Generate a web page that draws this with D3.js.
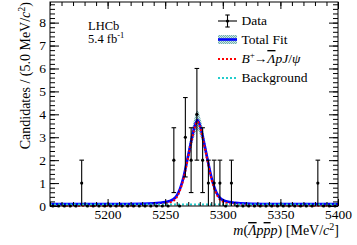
<!DOCTYPE html>
<html><head><meta charset="utf-8">
<script src="https://cdn.jsdelivr.net/npm/d3@7"></script>
<style>html,body{margin:0;padding:0;background:#fff}svg{display:block}</style>
</head><body>
<svg id="c" width="357" height="245"></svg>
<script>
// ---- data ----
const binCenters = [5152.5,5157.5,5162.5,5167.5,5172.5,5177.5,5182.5,5187.5,5192.5,5197.5,
  5202.5,5207.5,5212.5,5217.5,5222.5,5227.5,5232.5,5237.5,5242.5,5247.5,
  5252.5,5257.5,5262.5,5267.5,5272.5,5277.5,5282.5,5287.5,5292.5,5297.5,
  5302.5,5307.5,5312.5,5317.5,5322.5,5327.5,5332.5,5337.5,5342.5,5347.5,
  5352.5,5357.5,5362.5,5367.5,5372.5,5377.5,5382.5,5387.5,5392.5,5397.5];
const counts = [0,0,0,0,0,1,0,0,0,0,
  0,0,0,0,0,0,0,0,0,0,
  0,2,0,3,2,4,2,1,1,1,
  0,1,0,0,0,0,0,0,0,0,
  0,0,0,0,0,0,1,0,0,0];
const fitMass   = [5150,5200,5230,5240,5245,5250,5254,5257,5260,5263,5266,5269,5272,5275,5278,5281,5284,5287,5290,5293,5296,5299,5302,5306,5311,5320,5340,5370,5400];
const totalFit  = [0.08,0.085,0.10,0.12,0.14,0.17,0.22,0.29,0.45,0.77,1.27,1.97,2.69,3.37,3.75,3.37,2.69,1.97,1.27,0.77,0.45,0.29,0.22,0.17,0.14,0.11,0.09,0.085,0.08];
const signalFit = [0.01,0.015,0.03,0.05,0.07,0.10,0.15,0.22,0.38,0.70,1.20,1.90,2.62,3.30,3.68,3.30,2.62,1.90,1.20,0.70,0.38,0.22,0.15,0.10,0.07,0.04,0.02,0.015,0.01];
const bandHalf  = [0.02,0.02,0.02,0.02,0.02,0.02,0.03,0.04,0.06,0.10,0.16,0.24,0.32,0.38,0.42,0.38,0.32,0.24,0.16,0.10,0.06,0.04,0.03,0.02,0.02,0.02,0.02,0.02,0.02];
const bkgMass   = [5150,5400];
const bkgFit    = [0.07,0.07];
const xTicks = [5200,5250,5300,5350,5400];
const yTicks = [0,1,2,3,4,5,6,7,8];

// ---- layout ----
const L=50,R=338,T=2,B=206;
const svg=d3.select("#c");
const x=d3.scaleLinear([5150,5400],[L,R]);
const y=d3.scaleLinear([0,8.9],[B,T]);
const font="'Liberation Serif','Times New Roman',serif";

const defs=svg.append("defs");
const pat=defs.append("pattern").attr("id","hatch").attr("patternUnits","userSpaceOnUse").attr("width",2).attr("height",2);
pat.append("rect").attr("width",2).attr("height",2).attr("fill","#cfe6e6");
pat.append("rect").attr("width",1).attr("height",1).attr("fill","#6fb0b0");
pat.append("rect").attr("x",1).attr("y",1).attr("width",1).attr("height",1).attr("fill","#6fb0b0");

const fitPts=fitMass.map((m,i)=>({m,t:totalFit[i],s:signalFit[i],h:bandHalf[i]}));

// band
svg.append("path").datum(fitPts)
  .attr("d",d3.area().x(d=>x(d.m)).y0(d=>y(d.t-d.h)).y1(d=>y(d.t+d.h)).curve(d3.curveMonotoneX))
  .attr("fill","url(#hatch)");
// total fit
svg.append("path").datum(fitPts)
  .attr("d",d3.line().x(d=>x(d.m)).y(d=>y(d.t)).curve(d3.curveMonotoneX))
  .attr("fill","none").attr("stroke","#0000ff").attr("stroke-width",2.6);
// signal
svg.append("path").datum(fitPts)
  .attr("d",d3.line().x(d=>x(d.m)).y(d=>y(d.s)).curve(d3.curveMonotoneX))
  .attr("fill","none").attr("stroke","#ff0000").attr("stroke-width",2).attr("stroke-dasharray","2,2");
// background
svg.append("path").datum(bkgMass.map((m,i)=>({m,v:bkgFit[i]})))
  .attr("d",d3.line().x(d=>x(d.m)).y(d=>y(d.v)))
  .attr("fill","none").attr("stroke","#22cccc").attr("stroke-width",2).attr("stroke-dasharray","2,2");

// data
const data=binCenters.map((m,i)=>({m,n:counts[i]}));
const g=svg.append("g");
data.filter(d=>d.n>0).forEach(d=>{
  const e=Math.sqrt(d.n);
  const cx=x(d.m);
  g.append("line").attr("x1",cx).attr("x2",cx).attr("y1",y(Math.max(0,d.n-e))).attr("y2",y(d.n+e)).attr("stroke","#000").attr("stroke-width",1.1);
  [d.n-e,d.n+e].forEach(v=>{ if(v>0) g.append("line").attr("x1",cx-2.3).attr("x2",cx+2.3).attr("y1",y(v)).attr("y2",y(v)).attr("stroke","#000").attr("stroke-width",1.1);});
});
g.selectAll("circle").data(data).join("circle").attr("cx",d=>x(d.m)).attr("cy",d=>y(d.n)).attr("r",1.6).attr("fill","#000");

// axes
function styleAxis(sel){sel.selectAll("text").attr("font-family",font).attr("font-size",13.5).attr("fill","#000");sel.selectAll("line").attr("stroke","#000");sel.select(".domain").remove();}
svg.append("g").attr("transform",`translate(0,${B})`).call(d3.axisBottom(x).tickValues(xTicks).tickSize(-7).tickSizeOuter(0).tickPadding(3.5).tickFormat(d3.format("d"))).call(styleAxis);
svg.append("g").attr("transform",`translate(0,${B})`).call(d3.axisBottom(x).tickValues(d3.range(5150,5401,10)).tickSize(-4).tickSizeOuter(0).tickFormat("")).call(styleAxis);
svg.append("g").attr("transform",`translate(0,${T})`).call(d3.axisTop(x).tickValues(xTicks).tickSize(-7).tickSizeOuter(0).tickFormat("")).call(styleAxis);
svg.append("g").attr("transform",`translate(0,${T})`).call(d3.axisTop(x).tickValues(d3.range(5150,5401,10)).tickSize(-4).tickSizeOuter(0).tickFormat("")).call(styleAxis);
svg.append("g").attr("transform",`translate(${L},0)`).call(d3.axisLeft(y).tickValues(yTicks).tickSize(-9).tickSizeOuter(0).tickPadding(4)).call(styleAxis);
svg.append("g").attr("transform",`translate(${L},0)`).call(d3.axisLeft(y).tickValues(d3.range(0,8.85,0.2)).tickSize(-5).tickSizeOuter(0).tickFormat("")).call(styleAxis);
svg.append("g").attr("transform",`translate(${R},0)`).call(d3.axisRight(y).tickValues(yTicks).tickSize(-9).tickSizeOuter(0).tickFormat("")).call(styleAxis);
svg.append("g").attr("transform",`translate(${R},0)`).call(d3.axisRight(y).tickValues(d3.range(0,8.85,0.2)).tickSize(-5).tickSizeOuter(0).tickFormat("")).call(styleAxis);
svg.append("rect").attr("x",L).attr("y",T).attr("width",R-L).attr("height",B-T).attr("fill","none").attr("stroke","#000").attr("stroke-width",1);

// axis titles
const yt=svg.append("text").attr("transform","translate(29.5,2) rotate(-90)").attr("text-anchor","end")
  .attr("font-family",font).attr("font-size",14);
yt.append("tspan").text("Candidates / (5.0 MeV/");
yt.append("tspan").attr("font-style","italic").text("c");
yt.append("tspan").attr("font-size",10).attr("dy",-5).text("2");
yt.append("tspan").attr("dy",5).text(")");

const xt=svg.append("text").attr("x",339).attr("y",235).attr("text-anchor","end").attr("font-family",font).attr("font-size",14);
xt.append("tspan").attr("font-style","italic").text("m");
xt.append("tspan").text("(");
xt.append("tspan").attr("font-style","italic").style("text-decoration","overline").text("Λ");
xt.append("tspan").attr("font-style","italic").text("p");
xt.append("tspan").attr("font-style","italic").style("text-decoration","overline").text("p");
xt.append("tspan").attr("font-style","italic").text("p");
xt.append("tspan").text(") [MeV/");
xt.append("tspan").attr("font-style","italic").text("c");
xt.append("tspan").attr("font-size",10).attr("dy",-5).text("2");
xt.append("tspan").attr("dy",5).text("]");

// LHCb label
svg.append("text").attr("x",88).attr("y",29.5).attr("font-family",font).attr("font-size",12.5).text("LHCb");
const lum=svg.append("text").attr("x",88).attr("y",43).attr("font-family",font).attr("font-size",12.5);
lum.append("tspan").text("5.4 fb");
lum.append("tspan").attr("font-size",8.5).attr("dy",-5).text("-1");

// legend
const lx0=218,lx1=237,tx=241.5;
const lg=svg.append("g");
lg.append("line").attr("x1",lx0).attr("x2",lx1).attr("y1",21).attr("y2",21).attr("stroke","#000").attr("stroke-width",1.1);
lg.append("line").attr("x1",227.5).attr("x2",227.5).attr("y1",15).attr("y2",27).attr("stroke","#000").attr("stroke-width",1.1);
lg.append("line").attr("x1",225.3).attr("x2",229.7).attr("y1",15).attr("y2",15).attr("stroke","#000").attr("stroke-width",1.1);
lg.append("line").attr("x1",225.3).attr("x2",229.7).attr("y1",27).attr("y2",27).attr("stroke","#000").attr("stroke-width",1.1);
lg.append("circle").attr("cx",227.5).attr("cy",21).attr("r",1.6).attr("fill","#000");
lg.append("rect").attr("x",lx0).attr("y",35).attr("width",lx1-lx0).attr("height",9).attr("fill","url(#hatch)");
lg.append("line").attr("x1",lx0).attr("x2",lx1).attr("y1",39.5).attr("y2",39.5).attr("stroke","#0000ff").attr("stroke-width",2.6);
lg.append("line").attr("x1",lx0).attr("x2",lx1).attr("y1",59).attr("y2",59).attr("stroke","#ff0000").attr("stroke-width",2).attr("stroke-dasharray","2,2");
lg.append("line").attr("x1",lx0).attr("x2",lx1).attr("y1",78).attr("y2",78).attr("stroke","#22cccc").attr("stroke-width",2).attr("stroke-dasharray","2,2");
const lt=(yy)=>lg.append("text").attr("x",tx).attr("y",yy).attr("font-family",font).attr("font-size",13.5);
lt(25).text("Data");
lt(44).text("Total Fit");
const bt=lt(63);
bt.append("tspan").attr("font-style","italic").text("B");
bt.append("tspan").attr("font-size",9).attr("dy",-5).text("+");
bt.append("tspan").attr("dy",5).attr("dx",-1).text("→");
bt.append("tspan").attr("font-style","italic").style("text-decoration","overline").text("Λ");
bt.append("tspan").attr("font-style","italic").text("pJ");
bt.append("tspan").text("/");
bt.append("tspan").attr("font-style","italic").text("ψ");
lt(82).text("Background");
</script>
</body></html>
